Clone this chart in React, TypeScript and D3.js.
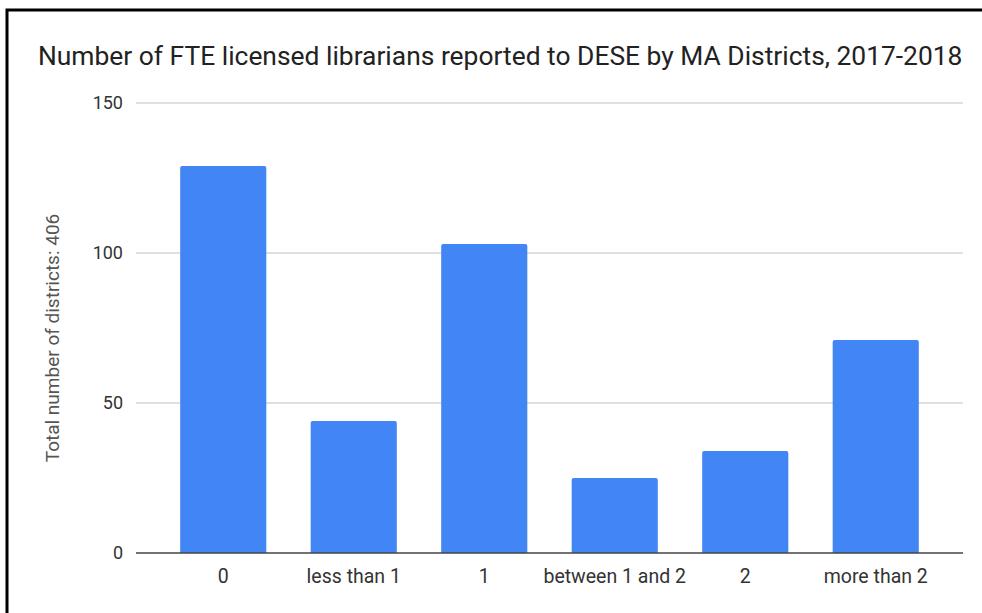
import React from "react";
import * as d3 from "d3";

const categories = ["0", "less than 1", "1", "between 1 and 2", "2", "more than 2"];
const values = [129, 44, 103, 25, 34, 71];
const yTicks = [0, 50, 100, 150];
const title = "Number of FTE licensed librarians reported to DESE by MA Districts, 2017-2018";
const yTitle = "Total number of districts: 406";

export default function App() {
  const W = 982, H = 613;
  const plotLeft = 136, plotRight = 963, top = 103, bottom = 553;
  const y = d3.scaleLinear().domain([0, 150]).range([bottom, top]);
  const x = d3.scaleBand().domain(categories).range([plotLeft + 22, plotRight - 22]).paddingInner(0.34).paddingOuter(0.17);
  const font = "Roboto, 'Noto Sans', sans-serif";
  return (
    <svg width={W} height={H} style={{ position: "absolute", left: 0, top: 0, background: "#fff" }} fontFamily={font}>
      <rect x={0} y={0} width={W} height={H} fill="#fff" />
      <rect x={7} y={10} width={W + 10} height={H + 10} fill="none" stroke="#000" strokeWidth={3} />
      <text x={38} y={65} fontSize={26.4} fill="#222">{title}</text>
      {yTicks.map((t) => (
        <g key={t}>
          {t !== 0 && <line x1={plotLeft} x2={plotRight} y1={y(t)} y2={y(t)} stroke="#d6d6d6" strokeWidth={1.5} />}
          <text x={123} y={y(t)} dy="0.35em" textAnchor="end" fontSize={18} fill="#333">{t}</text>
        </g>
      ))}
      {values.map((v, i) => {
        const bx = x(categories[i])!;
        const bw = x.bandwidth();
        const by = y(v);
        return (
          <path key={i}
            d={`M${bx},${bottom} L${bx},${by + 2} Q${bx},${by} ${bx + 2},${by} L${bx + bw - 2},${by} Q${bx + bw},${by} ${bx + bw},${by + 2} L${bx + bw},${bottom} Z`}
            fill="#4285f4" />
        );
      })}
      <line x1={plotLeft} x2={plotRight} y1={bottom} y2={bottom} stroke="#444" strokeWidth={1.5} />
      {categories.map((c) => (
        <text key={c} x={x(c)! + x.bandwidth() / 2} y={583} textAnchor="middle" fontSize={19.5} fill="#333">{c}</text>
      ))}
      <text transform={`translate(52,338) rotate(-90)`} textAnchor="middle" dy="0.35em" fontSize={19} fill="#555">{yTitle}</text>
    </svg>
  );
}
